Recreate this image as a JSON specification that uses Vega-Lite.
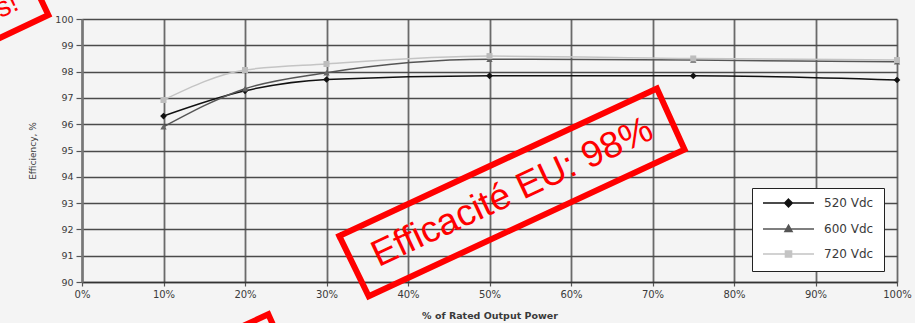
{
  "$schema": "https://vega.github.io/schema/vega-lite/v6.json",
  "width": 815,
  "height": 263,
  "autosize": {"type": "none"},
  "padding": {"left": 82, "top": 19, "right": 18, "bottom": 41},
  "background": "#f4f4f4",
  "config": {
    "view": {"stroke": null, "fill": "#f4f4f4"},
    "font": "DejaVu Sans"
  },
  "datasets": {
    "eff": [
      {"series": "520 Vdc", "load": 10, "eff": 96.31},
      {"series": "520 Vdc", "load": 20, "eff": 97.27},
      {"series": "520 Vdc", "load": 30, "eff": 97.70},
      {"series": "520 Vdc", "load": 50, "eff": 97.84},
      {"series": "520 Vdc", "load": 75, "eff": 97.84},
      {"series": "520 Vdc", "load": 100, "eff": 97.68},
      {"series": "600 Vdc", "load": 10, "eff": 95.90},
      {"series": "600 Vdc", "load": 20, "eff": 97.35},
      {"series": "600 Vdc", "load": 30, "eff": 97.96},
      {"series": "600 Vdc", "load": 50, "eff": 98.47},
      {"series": "600 Vdc", "load": 75, "eff": 98.44},
      {"series": "600 Vdc", "load": 100, "eff": 98.37},
      {"series": "720 Vdc", "load": 10, "eff": 96.92},
      {"series": "720 Vdc", "load": 20, "eff": 98.06},
      {"series": "720 Vdc", "load": 30, "eff": 98.29},
      {"series": "720 Vdc", "load": 50, "eff": 98.59},
      {"series": "720 Vdc", "load": 75, "eff": 98.50},
      {"series": "720 Vdc", "load": 100, "eff": 98.44}
    ],
    "box": [
      {"seg": "main", "ord": 0, "load": 31.57, "eff": 91.75},
      {"seg": "main", "ord": 1, "load": 70.54, "eff": 97.36},
      {"seg": "main", "ord": 2, "load": 73.93, "eff": 95.04},
      {"seg": "main", "ord": 3, "load": 35.18, "eff": 89.46},
      {"seg": "main", "ord": 4, "load": 31.57, "eff": 91.75},
      {"seg": "topleft", "ord": 0, "load": -5.18, "eff": 100.84},
      {"seg": "topleft", "ord": 1, "load": -4.13, "eff": 100.15},
      {"seg": "topleft", "ord": 2, "load": -10.64, "eff": 99.20},
      {"seg": "bottom", "ord": 0, "load": 19.42, "eff": 88.28},
      {"seg": "bottom", "ord": 1, "load": 22.86, "eff": 88.77},
      {"seg": "bottom", "ord": 2, "load": 23.47, "eff": 88.35}
    ],
    "stamp": [
      {"label": "Efficacité EU: 98%", "load": 52.8, "eff": 93.4}
    ],
    "stamp2": [
      {"label": "s!", "load": -7.57, "eff": 100.38}
    ]
  },
  "encoding": {
    "x": {
      "field": "load", "type": "quantitative",
      "scale": {"domain": [0, 100], "nice": false},
      "axis": {
        "values": [0, 10, 20, 30, 40, 50, 60, 70, 80, 90, 100],
        "tickCount": 11,
        "labelExpr": "datum.value + '%'",
        "title": "% of Rated Output Power",
        "grid": true, "gridColor": "#6a6a6a", "gridWidth": 1.8,
        "domainColor": "#333333", "domainWidth": 1.5,
        "tickColor": "#555555", "tickSize": 4, "tickWidth": 1.2,
        "labelFontSize": 10, "labelColor": "#3a3a3a", "labelPadding": 3,
        "labelFlush": false,
        "titleFontSize": 9.5, "titleFontWeight": "bold", "titleColor": "#3a3a3a",
        "titlePadding": 11
      }
    },
    "y": {
      "field": "eff", "type": "quantitative",
      "scale": {"domain": [90, 100], "nice": false, "zero": false},
      "axis": {
        "values": [90, 91, 92, 93, 94, 95, 96, 97, 98, 99, 100],
        "tickCount": 11,
        "labelOverlap": false,
        "title": "Efficiency, %",
        "grid": true, "gridColor": "#4a4a4a", "gridWidth": 1.3,
        "domainColor": "#777777", "domainWidth": 2.5,
        "tickColor": "#555555", "tickSize": 6, "tickWidth": 1.2,
        "labelFontSize": 9.5, "labelColor": "#3a3a3a", "labelPadding": 3,
        "labelFlush": false,
        "titleFontSize": 9, "titleFontWeight": "normal", "titleColor": "#3a3a3a",
        "titlePadding": 17
      }
    }
  },
  "layer": [
    {
      "data": {"name": "eff"},
      "mark": {"type": "line", "interpolate": "monotone", "strokeWidth": 1.5},
      "encoding": {
        "color": {
          "field": "series", "type": "nominal",
          "scale": {"domain": ["520 Vdc", "600 Vdc", "720 Vdc"], "range": ["#111111", "#555555", "#c4c4c4"]},
          "legend": {
            "orient": "none", "legendX": 670, "legendY": 169,
            "title": null, "padding": 10,
            "fillColor": "#ffffff", "strokeColor": "#222222",
            "rowPadding": 12,
            "labelFontSize": 12, "labelColor": "#3a3a3a", "labelOffset": 9,
            "symbolSize": 2601, "symbolStrokeWidth": 1.5,
            "encode": {
              "symbols": {
                "update": {
                  "shape": {"signal": "datum.value == '520 Vdc' ? 'M-1,0H1M0,-0.15L0.15,0L0,0.15L-0.15,0Z' : datum.value == '600 Vdc' ? 'M-1,0H1M0,-0.15L0.14,0.1L-0.14,0.1Z' : 'M-1,0H1M-0.12,-0.12H0.12V0.12H-0.12Z'"},
                  "stroke": {"scale": "color", "field": "value"},
                  "fill": {"scale": "color", "field": "value"},
                  "strokeWidth": {"value": 1.5},
                  "opacity": {"value": 1},
                  "y": {"value": 5}
                }
              },
              "labels": {
                "update": {
                  "y": {"value": 5}
                }
              }
            }
          }
        }
      }
    },
    {
      "data": {"name": "eff"},
      "transform": [{"filter": "datum.series == '520 Vdc'"}],
      "mark": {"type": "point", "filled": true, "opacity": 1, "size": 45, "shape": "diamond", "color": "#111111"}
    },
    {
      "data": {"name": "eff"},
      "transform": [{"filter": "datum.series == '600 Vdc'"}],
      "mark": {"type": "point", "filled": true, "opacity": 1, "size": 40, "shape": "triangle-up", "color": "#666666"}
    },
    {
      "data": {"name": "eff"},
      "transform": [{"filter": "datum.series == '720 Vdc'"}],
      "mark": {"type": "point", "filled": true, "opacity": 1, "size": 36, "shape": "square", "color": "#bdbdbd"}
    },
    {
      "data": {"name": "box"},
      "mark": {"type": "line", "color": "#ff0000", "strokeWidth": 6, "strokeJoin": "miter", "strokeCap": "square"},
      "encoding": {
        "detail": {"field": "seg"},
        "order": {"field": "ord", "type": "quantitative"}
      }
    },
    {
      "data": {"name": "stamp"},
      "mark": {"type": "text", "color": "#ff0000", "font": "Liberation Sans", "fontSize": 37, "angle": -25, "align": "center", "baseline": "middle"},
      "encoding": {
        "text": {"field": "label"}
      }
    },
    {
      "data": {"name": "stamp2"},
      "mark": {"type": "text", "color": "#ff0000", "font": "Liberation Sans", "fontSize": 28, "angle": -25, "align": "right", "baseline": "alphabetic"},
      "encoding": {
        "text": {"field": "label"}
      }
    }
  ]
}
